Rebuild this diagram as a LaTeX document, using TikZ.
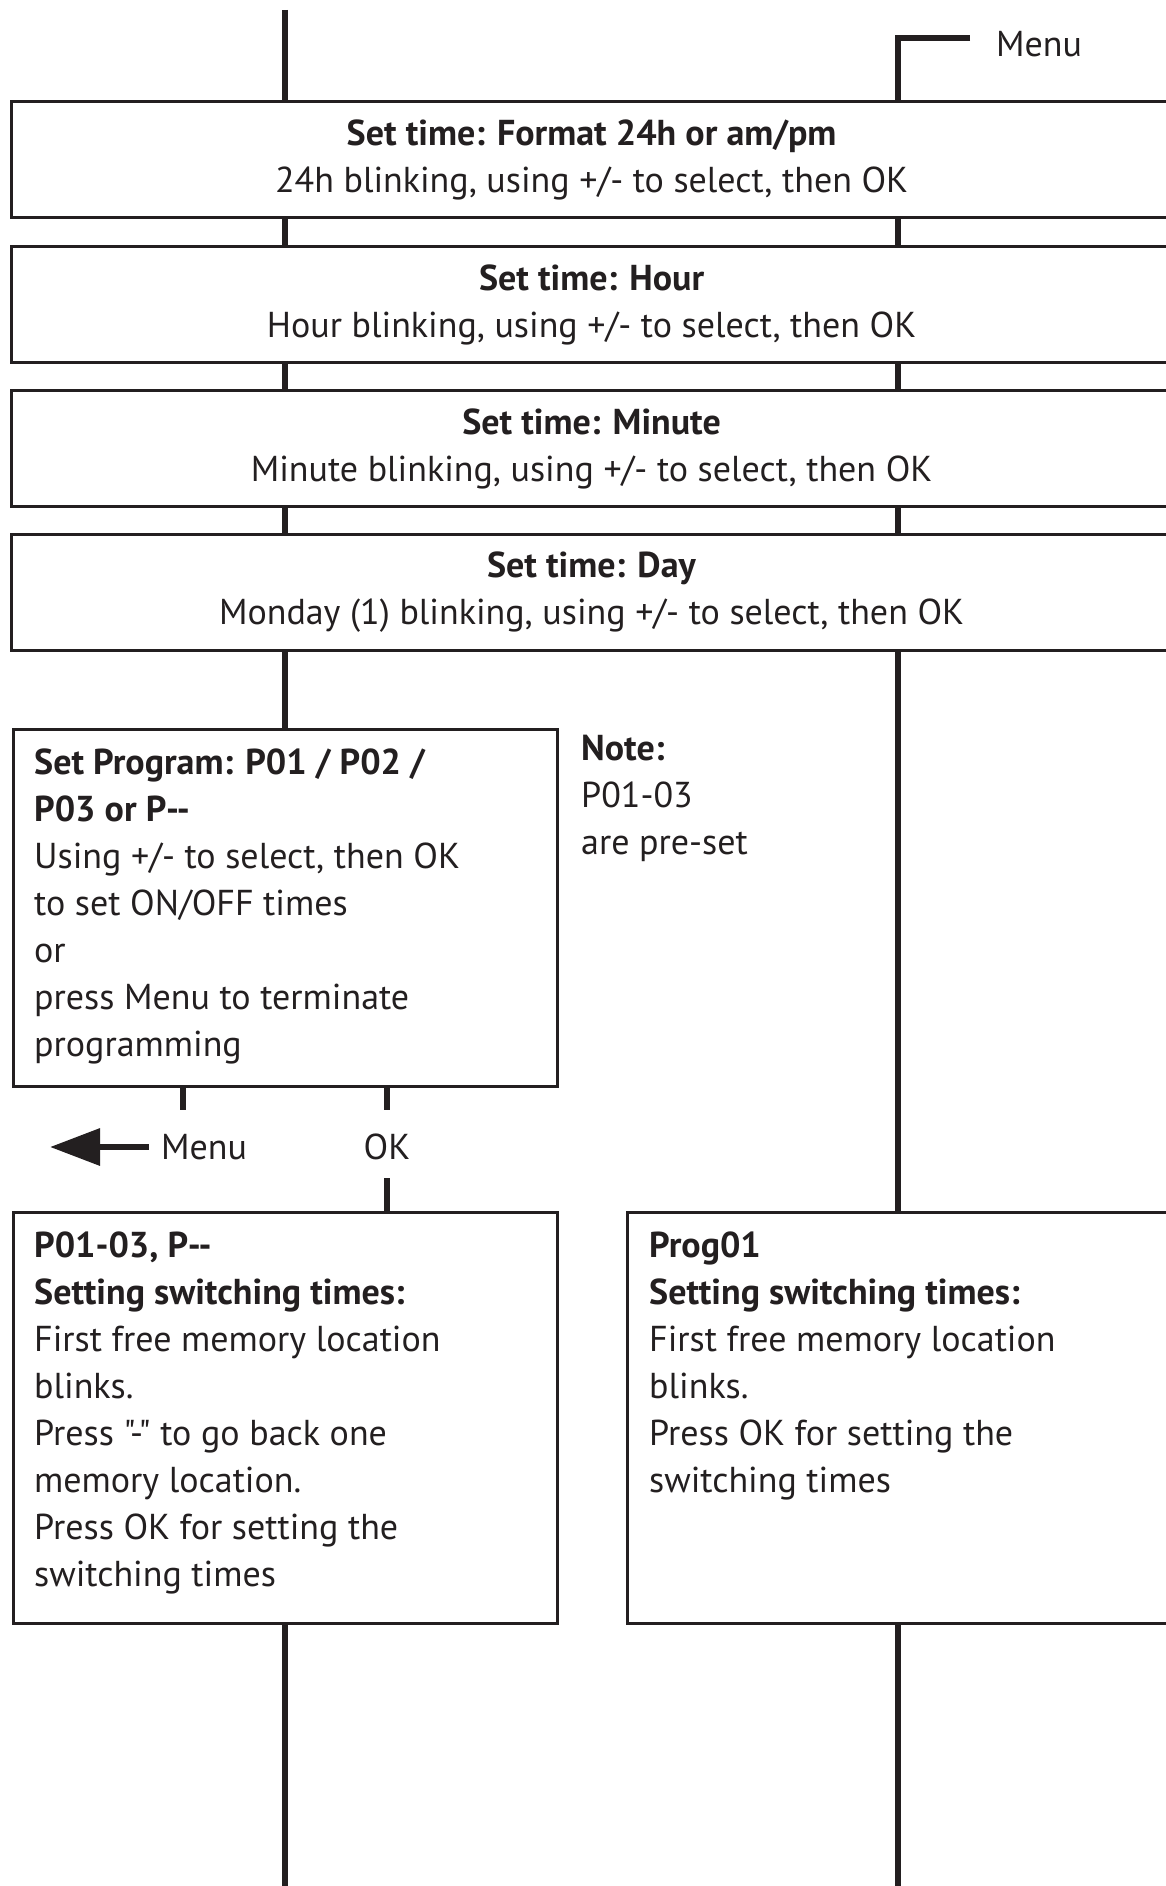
\documentclass[tikz,border=0pt]{standalone}
\usepackage{fontspec}
\setmainfont{PT Sans}[Ligatures=TeXOff]
\usetikzlibrary{arrows.meta,positioning}

\definecolor{ink}{RGB}{35,31,32}
\newcommand{\boxfont}{\fontsize{36}{47}\selectfont}

\tikzset{
  stepbox/.style={draw=ink, line width=3.2pt, rectangle, inner sep=0pt, anchor=north west},
  widebox/.style={stepbox, minimum width=1160pt, minimum height=116pt, align=center, font=\boxfont, text=ink},
  flowline/.style={draw=ink, line width=6.5pt},
  txt/.style={inner sep=0pt, anchor=north west, align=left, font=\boxfont, text=ink},
  lbl/.style={inner sep=0pt, font=\boxfont, text=ink}
}

\begin{document}
\begin{tikzpicture}[x=1pt, y=-1pt]
\useasboundingbox (0,0) rectangle (1166,1886);
\clip (0,0) rectangle (1166,1886);

% --- columns ---
\coordinate (lcol) at (285,0);
\coordinate (rcol) at (898,0);
\coordinate (lefttop) at (285,10);
\coordinate (menucorner) at (898,38);
\coordinate (menuend) at (970,38);

\node[lbl, anchor=west] (menutop) at (996,44) {Menu};

% --- set time ---
\node[widebox] (fmt) at (10,100) {\textbf{Set time: Format 24h or am/pm}\\24h blinking, using +/- to select, then OK};
\node[widebox] (hour) at (10,245) {\textbf{Set time: Hour}\\Hour blinking, using +/- to select, then OK};
\node[widebox] (minute) at (10,389) {\textbf{Set time: Minute}\\Minute blinking, using +/- to select, then OK};
\node[widebox] (day) at (10,533) {\textbf{Set time: Day}\\Monday (1) blinking, using +/- to select, then OK};

\draw[flowline] (lefttop) -- (fmt.north -| lcol);
\draw[flowline] (menuend) -- (menucorner) -- (fmt.north -| rcol);
\foreach \a/\b in {fmt/hour, hour/minute, minute/day} {
  \draw[flowline] (\a.south -| lcol) -- (\b.north -| lcol);
  \draw[flowline] (\a.south -| rcol) -- (\b.north -| rcol);
}

% --- set program ---
\node[stepbox, minimum width=544pt, minimum height=357pt] (prog) at (12,728) {};
\node[txt] (progtext) at (34,749) {\textbf{Set Program: P01 / P02 /}\\\textbf{P03 or P--}\\Using +/- to select, then OK\\to set ON/OFF times\\or\\press Menu to terminate\\programming};
\node[txt] (note) at (581,735) {\textbf{Note:}\\P01-03\\are pre-set};

\draw[flowline] (day.south -| lcol) -- (prog.north -| lcol);

\coordinate (menustub) at (183,1110);
\coordinate (okstub) at (387,1110);
\coordinate (okbelow) at (387,1178);
\coordinate (menuexit) at (50,1147);
\node[lbl] (menu) at (204,1147) {Menu};
\node[lbl] (ok) at (387,1147) {OK};

\draw[flowline] (prog.south -| menustub) -- (menustub);
\draw[flowline] (prog.south -| okstub) -- (okstub);
\draw[flowline, -{Triangle[length=50pt, width=36pt]}] ([xshift=-12pt]menu.west) -- (menuexit);

% --- switching times ---
\node[stepbox, minimum width=544pt, minimum height=411pt] (setl) at (12,1211) {};
\node[txt] (setltext) at (34,1232) {\textbf{P01-03, P--}\\\textbf{Setting switching times:}\\First free memory location\\blinks.\\Press "-" to go back one\\memory location.\\Press OK for setting the\\switching times};
\node[stepbox, minimum width=560pt, minimum height=411pt] (setr) at (626,1211) {};
\node[txt] (setrtext) at (649,1232) {\textbf{Prog01}\\\textbf{Setting switching times:}\\First free memory location\\blinks.\\Press OK for setting the\\switching times};

\draw[flowline] (okbelow) -- (setl.north -| okbelow);
\draw[flowline] (day.south -| rcol) -- (setr.north -| rcol);
\draw[flowline] (setl.south -| lcol) -- (lcol |- 0,1890);
\draw[flowline] (setr.south -| rcol) -- (rcol |- 0,1890);

\end{tikzpicture}
\end{document}
